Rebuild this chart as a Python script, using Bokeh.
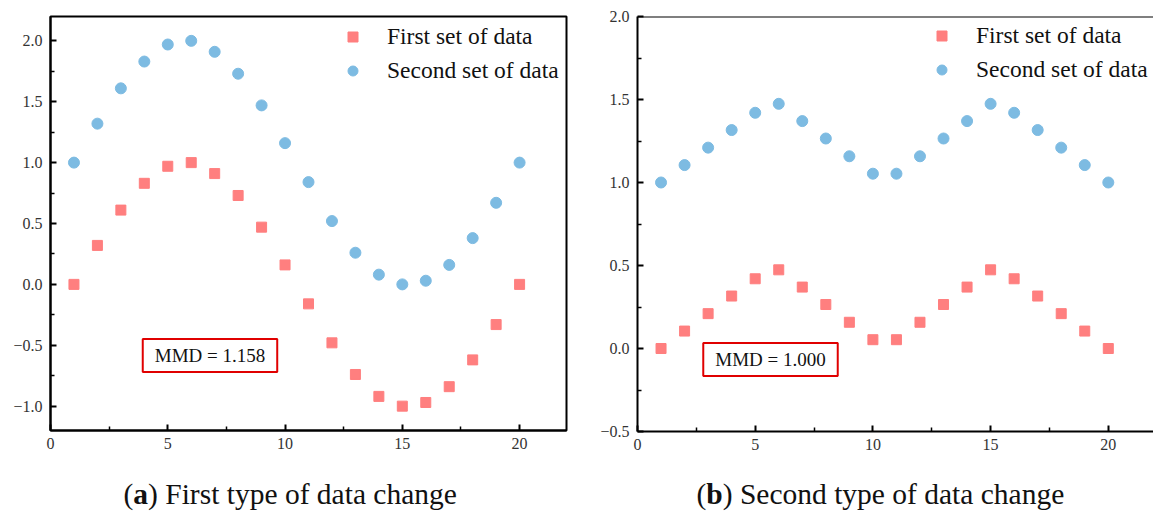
from bokeh.plotting import figure
from bokeh.layouts import row, column
from bokeh.models import (Label, Legend, LegendItem, FixedTicker, Span,
                          CustomJSTickFormatter)
from bokeh.core.properties import value
from bokeh.embed import file_html
from bokeh.resources import INLINE

# ---- data -------------------------------------------------------------
x_idx = list(range(1, 21))

a_first = [0.00, 0.32, 0.61, 0.83, 0.97, 1.00, 0.91, 0.73, 0.47, 0.16,
           -0.16, -0.48, -0.74, -0.92, -1.00, -0.97, -0.84, -0.62, -0.33, 0.00]
a_second = [1.00, 1.32, 1.61, 1.83, 1.97, 2.00, 1.91, 1.73, 1.47, 1.16,
            0.84, 0.52, 0.26, 0.08, 0.00, 0.03, 0.16, 0.38, 0.67, 1.00]

b_first = [0.00, 0.105, 0.21, 0.316, 0.42, 0.474, 0.37, 0.265, 0.158, 0.053,
           0.053, 0.158, 0.265, 0.37, 0.474, 0.42, 0.316, 0.21, 0.105, 0.00]
b_second = [1.00, 1.105, 1.21, 1.316, 1.42, 1.474, 1.37, 1.265, 1.158, 1.053,
            1.053, 1.158, 1.265, 1.37, 1.474, 1.42, 1.316, 1.21, 1.105, 1.00]

x_ticks = [0, 5, 10, 15, 20]
x_minor = [2.5, 7.5, 12.5, 17.5]
a_y_ticks = [-1.0, -0.5, 0.0, 0.5, 1.0, 1.5, 2.0]
a_y_minor = [-0.75, -0.25, 0.25, 0.75, 1.25, 1.75]
b_y_ticks = [-0.5, 0.0, 0.5, 1.0, 1.5, 2.0]
b_y_minor = [-0.25, 0.25, 0.75, 1.25, 1.75]

series_names = ["First set of data", "Second set of data"]
mmd_a = "MMD = 1.158"
mmd_b = "MMD = 1.000"
caption_a = ("a", "First type of data change")
caption_b = ("b", "Second type of data change")

RED = "#FF7F7F"
BLUE = "#7DBBE2"
SERIF = "Liberation Serif"
AXIS_FONT = "'Liberation Serif', serif"
CAP_SIZE = 29.5

y_fmt = CustomJSTickFormatter(
    code="return tick.toFixed(1).replace('-', '\u2212');")
x_fmt = CustomJSTickFormatter(code="return tick.toFixed(0);")


def style_axes(p, y_ticks, y_minor):
    p.xaxis.ticker = FixedTicker(ticks=x_ticks, minor_ticks=x_minor)
    p.yaxis.ticker = FixedTicker(ticks=y_ticks, minor_ticks=y_minor)
    p.xaxis.formatter = x_fmt
    p.yaxis.formatter = y_fmt
    for ax in (p.xaxis[0], p.yaxis[0]):
        ax.axis_line_color = "black"
        ax.axis_line_width = 2
        ax.major_tick_in = 6
        ax.major_tick_out = 0
        ax.minor_tick_in = 4
        ax.minor_tick_out = 0
        ax.major_tick_line_width = 2
        ax.minor_tick_line_width = 1.5
        ax.major_tick_line_color = "black"
        ax.minor_tick_line_color = "black"
        ax.major_label_text_font = AXIS_FONT
        ax.major_label_text_font_size = "16px"
        ax.major_label_text_color = "#333333"
    p.xaxis.major_label_standoff = 7
    p.yaxis.major_label_standoff = 8
    p.xgrid.visible = False
    p.ygrid.visible = False


def add_points(p, first, second, loc):
    r1 = p.scatter(x_idx, first, marker="square", size=10, color=RED)
    r2 = p.scatter(x_idx, second, marker="circle", size=11, color=BLUE)
    leg = Legend(items=[LegendItem(label=series_names[0], renderers=[r1]),
                        LegendItem(label=series_names[1], renderers=[r2])],
                 location=loc, glyph_width=25, glyph_height=25,
                 label_height=25, spacing=7, padding=0, margin=0,
                 label_standoff=22, border_line_color=None,
                 background_fill_alpha=0, label_text_font=SERIF,
                 label_text_font_size="23.5px", label_text_color="#111111")
    p.add_layout(leg)


def add_mmd(p, x, y, text):
    p.add_layout(Label(x=x, y=y, text=text, text_align="center",
                       text_baseline="middle", text_font=SERIF,
                       text_font_size="19px", text_color="#111111",
                       border_line_color="#E00000", border_line_width=2,
                       background_fill_color="white", padding=(12, 6)))


def caption_fig(width, x0, letter, rest):
    # a bare strip holding the "(x) ..." caption, drawn in pixel units
    c = figure(width=width, height=45, x_range=(0, width), y_range=(0, 45),
               x_axis_type=None, y_axis_type=None, output_backend="svg",
               toolbar_location=None, min_border=0, title=None)
    c.outline_line_color = None
    c.xgrid.visible = False
    c.ygrid.visible = False
    x1 = x0 + 0.333 * CAP_SIZE
    x2 = x1 + (0.556 if letter == "b" else 0.5) * CAP_SIZE
    kw = dict(text_font=value(SERIF), text_font_size=f"{CAP_SIZE}px",
              text_color="#111111", text_baseline="alphabetic")
    c.text(x=[x0, x2], y=[20, 20], text=["(", ") " + rest], **kw)
    c.text(x=[x1], y=[20], text=[letter], text_font_style="bold", **kw)
    return c


# ---- panel (a) --------------------------------------------------------
pa = figure(frame_width=516, frame_height=414, x_range=(0, 22),
            y_range=(-1.2, 2.2), output_backend="svg", toolbar_location=None,
            min_border_left=50, min_border_right=19, min_border_top=14,
            min_border_bottom=40, title=None)
pa.outline_line_color = "black"
pa.outline_line_width = 2
pa.outline_line_alpha = 1
style_axes(pa, a_y_ticks, a_y_minor)
add_points(pa, a_first, a_second, (290, 346))
add_mmd(pa, 6.8, -0.585, mmd_a)

# ---- panel (b) --------------------------------------------------------
pb = figure(frame_width=516, frame_height=415, x_range=(0, 21.92),
            y_range=(-0.5, 2.0), output_backend="svg", toolbar_location=None,
            min_border_left=52, min_border_right=0, min_border_top=16,
            min_border_bottom=37, title=None)
pb.outline_line_color = None
style_axes(pb, b_y_ticks, b_y_minor)
pb.add_layout(Span(location=2.0, dimension="width", line_color="black",
                   line_width=2))
add_points(pb, b_first, b_second, (292, 348))
add_mmd(pb, 5.65, -0.066, mmd_b)

ca = caption_fig(585, 123, *caption_a)
cb = caption_fig(568, 111, *caption_b)

layout = column(row(pa, pb), row(ca, cb))
open("out.html", "w").write(file_html(layout, INLINE))
